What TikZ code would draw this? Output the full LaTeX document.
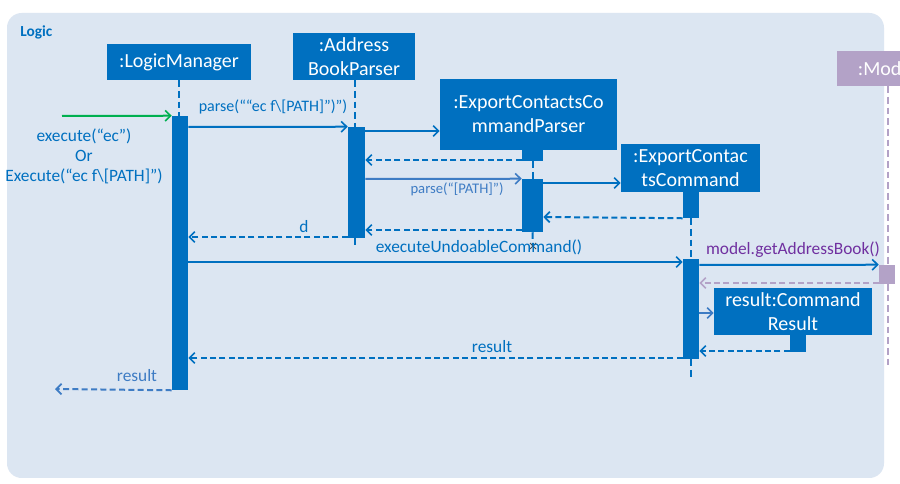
\documentclass[tikz,border=0pt]{standalone}
\usepackage{fontspec}
\setmainfont{Carlito}
\usetikzlibrary{arrows.meta,calc}
\definecolor{mblue}{HTML}{0070C0}
\definecolor{lblue}{HTML}{3E7CC4}
\definecolor{bgblue}{HTML}{DCE6F2}
\definecolor{mpurple}{HTML}{B3A2C7}
\definecolor{ptext}{HTML}{7030A0}
\definecolor{mgreen}{HTML}{00B050}
\tikzset{
  obj/.style={fill=mblue, text=white, font=\fontsize{15}{18}\selectfont, align=center, inner sep=0pt},
  act/.style={fill=mblue, inner sep=0pt},
  life/.style={draw=mblue, line width=1.5pt, dash pattern=on 5pt off 3pt},
  msg/.style={draw=mblue, line width=1.5pt, -{Straight Barb[length=4pt,width=8pt,line width=1.3pt]}},
  ret/.style={draw=mblue, line width=1.5pt, dash pattern=on 4.5pt off 2.5pt, -{Straight Barb[length=4pt,width=8pt,line width=1.3pt]}},
  lbl/.style={text=mblue, font=\fontsize{13}{15}\selectfont, inner sep=0pt},
}
\begin{document}
\begin{tikzpicture}[x=0.75pt,y=-0.75pt]
\clip (0,0) rectangle (900,484);
\useasboundingbox (0,0) rectangle (900,484);
\fill[white] (0,0) rectangle (900,484);
% frame
\fill[bgblue, rounded corners=11pt] (7,13) rectangle (884,478);
\node[anchor=west, text=mblue, font=\fontsize{11.5}{13}\selectfont\bfseries, inner sep=0pt] (logic) at (20,32) {Logic};

% objects
\node[obj, minimum width=108pt, minimum height=27pt] (lm) at (179,62) {:LogicManager};
\node[obj, minimum width=91.5pt, minimum height=35.25pt] (abp) at (354,56.5) {:Address\\BookParser};
\node[obj, minimum width=132.75pt, minimum height=53.25pt] (eccp) at (528.5,114.5) {:ExportContactsCo\\mmandParser};
\node[obj, minimum width=104.25pt, minimum height=36pt] (ecc) at (690.5,168) {:ExportContac\\tsCommand};
\node[obj, fill=mpurple, minimum width=75pt, minimum height=26.25pt] (model) at (887,68.5) {:Model};
\node[obj, minimum width=118.5pt, minimum height=35.25pt] (res) at (793,311.5) {result:Command\\Result};

% activation bars
\node[act, minimum width=12pt, minimum height=205.5pt] (lma) at (180,253) {};
\node[act, minimum width=12.75pt, minimum height=83.25pt] (abpa) at (356.5,182.5) {};
\node[act, minimum width=15.75pt, minimum height=8.25pt] (eccpt) at (532.5,155.5) {};
\node[act, minimum width=15.75pt, minimum height=39.75pt] (eccpa) at (532.5,205.5) {};
\node[act, minimum width=12pt, minimum height=19.5pt] (ecct) at (691,205) {};
\node[act, minimum width=12pt, minimum height=75pt] (ecca) at (691,309) {};
\node[act, fill=mpurple, minimum width=12pt, minimum height=14.25pt] (moda) at (887,274.5) {};
\node[act, minimum width=12pt, minimum height=12.75pt] (rest) at (798,343.5) {};

% lifelines
\draw[life] (lm.south -| 179,0) -- (179,116);
\draw[life] (abp.south -| 355,0) -- (355,127);
\draw[life] (355,238) -- (355,247);
\draw[life] (eccpt.south) -- (eccpa.north);
\draw[life] (eccpa.south) -- (533,246);
\coordinate (xmark) at (533,246);
\draw[black!70, line width=0.6pt] ($(xmark)+(-3,-3)$) -- ($(xmark)+(3,3)$) ($(xmark)+(-3,3)$) -- ($(xmark)+(3,-3)$);
\draw[life] (ecct.south) -- (ecca.north);
\draw[life] (ecca.south) -- (691,380);
\draw[life, draw=mpurple] (model.south -| 888,0) -- (888,265);
\draw[life, draw=mpurple] (888,284) -- (888,365);

% messages
\coordinate (start) at (62,116);
\draw[msg, draw=mgreen] (start) -- (lma.north west);
\node[lbl, align=center] (exlbl) at (84,156) {execute(“ec”)\\Or\\Execute(“ec f\textbackslash[PATH]”)};

\draw[msg] (lma.east |- 0,127) -- (abpa.north west);
\node[lbl, font=\fontsize{12}{15}\selectfont] (l1) at (273,107) {parse(““ec f\textbackslash[PATH]”)”)};

\draw[msg] (abpa.east |- 0,131) -- (eccp.west |- 0,131);
\draw[ret] (eccpt.west |- 0,160) -- (abpa.east |- 0,160);

\draw[msg, draw=lblue] (abpa.east |- 0,179) -- (eccpa.north west);
\node[lbl, text=lblue, font=\fontsize{11}{13}\selectfont] (l2) at (457,189) {parse(“[PATH]”)};

\draw[msg] (eccpa.east |- 0,183) -- (ecc.west |- 0,183);
\draw[ret] (ecct.south west) -- (eccpa.east |- 0,217);
\draw[ret] (eccpa.west |- 0,230) -- (abpa.east |- 0,230);

\draw[ret] (abpa.west |- 0,237) -- (lma.east |- 0,237);
\node[lbl] (l3) at (304,227) {d};

\draw[msg] (lma.east |- 0,262) -- (ecca.north west |- 0,262);
\node[lbl] (l4) at (479,247) {executeUndoableCommand()};

\draw[msg] (ecca.east |- 0,265) -- (moda.north west);
\node[lbl, text=ptext] (l5) at (793,250) {model.getAddressBook()};
\draw[ret, draw=mpurple] (moda.south west |- 0,283) -- (ecca.east |- 0,283);

\draw[msg, draw=lblue] (ecca.east |- 0,313) -- (res.west |- 0,313);
\draw[ret] (rest.south west |- 0,351) -- (ecca.east |- 0,351);

\draw[ret] (ecca.west |- 0,358) -- (lma.east |- 0,358);
\node[lbl] (l6) at (492,347) {result};

\coordinate (endres) at (55,389);
\draw[ret, draw=lblue] (lma.south west) -- (endres);
\node[lbl, text=lblue] (l7) at (137,376) {result};
\end{tikzpicture}
\end{document}
